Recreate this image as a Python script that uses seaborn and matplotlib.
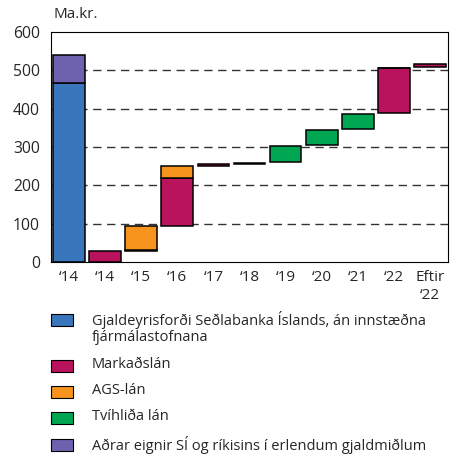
import matplotlib
matplotlib.use("Agg")
import matplotlib.pyplot as plt
from matplotlib.patches import Rectangle
import seaborn as sns
import pandas as pd

# Flokkar (x-ás) og merkingar
flokkar = ["14a", "14b", "15", "16", "17", "18", "19", "20", "21", "22", "eftir"]
merkingar = ["\u201814", "\u201814", "\u201815", "\u201816", "\u201817", "\u201818",
             "\u201819", "\u201820", "\u201821", "\u201822", "Eftir\n\u201822"]

# Hlutar fossins: flokkur, röð, neðri mörk, efri mörk (ma.kr.)
hluti_flokkur = ["14a", "14a", "14b", "15", "15", "16", "16", "17", "18",
                 "19", "20", "21", "22", "22", "eftir"]
hluti_rod = ["gjald", "adrar", "markad", "markad", "ags", "markad", "ags", "markad", "markad",
             "tvihlida", "tvihlida", "tvihlida", "markad", "tvihlida", "markad"]
hluti_nedri = [0, 466, 0, 29, 31, 95, 220, 251, 256, 260, 304, 346, 388, 505, 509]
hluti_efri = [466, 539, 29, 31, 95, 220, 251, 255, 259, 303, 344, 386, 505, 507, 516]

radir = ["gjald", "markad", "ags", "tvihlida", "adrar"]
rada_heiti = ["Gjaldeyrisforði Seðlabanka Íslands, án innstæðna\nfjármálastofnana",
              "Markaðslán", "AGS-lán", "Tvíhliða lán",
              "Aðrar eignir SÍ og ríkisins í erlendum gjaldmiðlum"]
litir = ["#3a76bb", "#b8135c", "#f7941d", "#00a651", "#6e62ae"]

df = pd.DataFrame({"flokkur": hluti_flokkur, "rod": hluti_rod,
                   "nedri": hluti_nedri, "efri": hluti_efri})
df["haed"] = df["efri"] - df["nedri"]

sns.set_style("white")
plt.rcParams["font.family"] = ["Open Sans", "DejaVu Sans"]

fig = plt.figure(figsize=(4.56, 4.55), dpi=100)
ax = fig.add_axes([51 / 456, 193 / 455, 397 / 456, 230 / 455])

for rod, litur in zip(radir, litir):
    sub = df[df["rod"] == rod]
    sns.barplot(data=sub, x="flokkur", y="haed", order=flokkar, bottom=sub["nedri"].to_numpy(),
                color=litur, saturation=1, width=0.88, errorbar=None,
                edgecolor="black", linewidth=1.1, ax=ax, zorder=3)

ax.set_xlim(-0.5, len(flokkar) - 0.5)
ax.set_ylim(0, 600)
ax.set_yticks(range(0, 601, 100))
ax.set_xlabel("")
ax.set_ylabel("")
for v in range(100, 600, 100):
    ax.axhline(v, color="#333333", lw=1.0, ls=(0, (6, 4)), zorder=1)

ax.set_xticks(range(len(flokkar)))
ax.set_xticklabels(merkingar)
ax.set_xticks([i - 0.5 for i in range(len(flokkar) + 1)], minor=True)
ax.tick_params(axis="x", which="major", length=0, pad=6, labelsize=11)
ax.tick_params(axis="x", which="minor", length=7, width=0.8, direction="out", color="black")
ax.tick_params(axis="y", length=0, pad=8, labelsize=11.3)
for s in ax.spines.values():
    s.set_visible(True)
    s.set_color("black")
    s.set_linewidth(0.8)

fig.text(54 / 456, 1 - 14 / 455, "Ma.kr.", fontsize=11, va="center", ha="left")

# Skýringar
handa_y = [320, 366, 392, 418, 445]
for y, litur, heiti in zip(handa_y, litir, rada_heiti):
    fig.add_artist(Rectangle((51 / 456, 1 - (y + 6) / 455), 22 / 456, 12 / 455,
                             facecolor=litur, edgecolor="black", lw=0.8,
                             transform=fig.transFigure))
    fig.text(92 / 456, 1 - (y - 9) / 455, heiti, fontsize=10.5, va="top", ha="left",
             linespacing=1.1)

fig.savefig("out.png", dpi=100)
